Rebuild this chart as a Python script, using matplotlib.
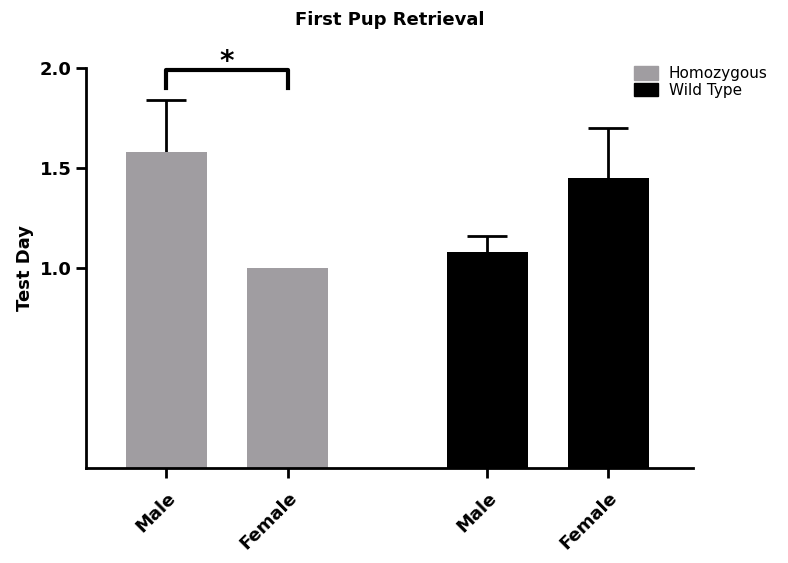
import matplotlib
matplotlib.use("Agg")
import matplotlib.pyplot as plt
import numpy as np
from matplotlib.patches import Patch

plt.rcParams["font.family"] = ["DejaVu Sans"]

# data
groups = ["Homozygous", "Wild Type"]
tick_labels = ["Male", "Female", "Male", "Female"]
means = [1.58, 1.00, 1.08, 1.45]
errors = [0.26, 0.0, 0.08, 0.25]
bar_groups = [0, 0, 1, 1]

gray = "#a09da1"
colors = [gray, "black"]

positions = np.array([0.0, 1.0, 2.65, 3.65])

fig = plt.figure(figsize=(7.88, 5.63), dpi=100)
ax = fig.add_axes([86 / 788, 95 / 563, (693 - 86) / 788, 400 / 563])

bar_colors = [colors[g] for g in bar_groups]
ax.bar(positions, means, width=0.67, color=bar_colors, zorder=2)

# upper error bars only, skipped where there is no error
has_err = np.array(errors) > 0
_, caps, _ = ax.errorbar(positions[has_err], np.array(means)[has_err],
                         yerr=[np.zeros(has_err.sum()), np.array(errors)[has_err]],
                         fmt="none", ecolor="black", elinewidth=2, capsize=14.5,
                         capthick=2, zorder=1)
caps[0].set_visible(False)

ax.set_xlim(-0.665, 4.35)
ax.set_ylim(0, 2.0)
ax.set_yticks([1.0, 1.5, 2.0])
ax.set_yticklabels(["1.0", "1.5", "2.0"], fontsize=13, fontweight="bold")
ax.set_xticks(positions)
ax.set_xticklabels(tick_labels, rotation=45, ha="right", rotation_mode="anchor",
                   fontsize=13, fontweight="bold")
ax.set_ylabel("Test Day", fontsize=13, fontweight="bold", labelpad=4)

for side in ["top", "right"]:
    ax.spines[side].set_visible(False)
for side in ["left", "bottom"]:
    ax.spines[side].set_linewidth(2)
ax.tick_params(axis="both", width=2, length=7, direction="out")
ax.tick_params(axis="x", pad=8)

# significance bracket
ax.plot([positions[0], positions[0], positions[1], positions[1]],
        [1.9, 1.99, 1.99, 1.9], color="black", lw=3, clip_on=False)
ax.text((positions[0] + positions[1]) / 2, 1.96, "*", ha="center", va="bottom",
        fontsize=20, fontweight="bold", linespacing=1.0)

ax.set_title("First Pup Retrieval", fontsize=13, fontweight="bold", pad=31)

handles = [Patch(facecolor=c, edgecolor=c) for c in colors]
ax.legend(handles, groups, loc="upper left", bbox_to_anchor=(0.8925, 1.02),
          frameon=False, fontsize=11, handlelength=1.6, handleheight=1.0,
          handletextpad=0.7, labelspacing=0.1, borderaxespad=0)

fig.savefig("out.png", dpi=100)
